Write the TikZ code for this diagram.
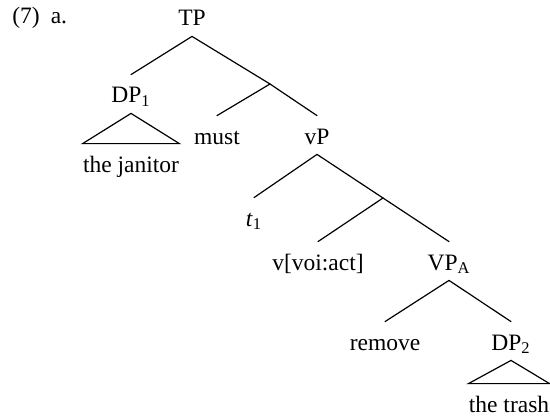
\documentclass[tikz,border=0pt]{standalone}
\usepackage{fontspec}
\setmainfont{Liberation Serif}
\begin{document}
\begin{tikzpicture}[x=0.5pt,y=-0.5pt,
  lbl/.style={inner sep=0pt, anchor=base, text height=14pt, text depth=5pt, font=\fontsize{11.75}{14}\selectfont},
  branch/.style={line width=0.6pt, line cap=round},
  tri/.style={line width=0.6pt, line join=miter}]
\useasboundingbox (0,0) rectangle (550,417);
\node[inner sep=0pt, anchor=base west, font=\fontsize{11.75}{14}\selectfont] (ex) at (12,24) {(7)\hspace{5.5pt}a.};
\node[lbl] (TP) at (192,26) {TP};
\node[lbl] (DP1) at (131,103) {DP\textsubscript{1}};
\node[lbl] (jan) at (131,172) {the janitor};
\coordinate (Tbar) at (270,84);
\node[lbl] (must) at (217,144) {must};
\node[lbl] (vP) at (317,144) {vP};
\node[lbl] (t1) at (254,226) {\textit{t}\textsubscript{1}};
\coordinate (vbar) at (383,198);
\node[lbl] (vva) at (318,270) {v[voi:act]};
\node[lbl] (VPA) at (449,270) {VP\textsubscript{A}};
\node[lbl] (rem) at (385,350) {remove};
\node[lbl] (DP2) at (511,350) {DP\textsubscript{2}};
\node[lbl] (trash) at (509,412) {the trash};
\draw[branch] (TP.south) -- (DP1.north);
\draw[branch] (TP.south) -- (Tbar);
\draw[branch] (Tbar) -- (must.north);
\draw[branch] (Tbar) -- (vP.north);
\draw[branch] (vP.south) -- (t1.north);
\draw[branch] (vP.south) -- (vbar);
\draw[branch] (vbar) -- (vva.north);
\draw[branch] (vbar) -- (VPA.north);
\draw[branch] (VPA.south) -- (rem.north);
\draw[branch] (VPA.south) -- (DP2.north);
\draw[tri] (DP1.south) -- (jan.north west) -- (jan.north east) -- cycle;
\draw[tri] (DP2.south) -- (trash.north west) -- (trash.north east) -- cycle;
\end{tikzpicture}
\end{document}
